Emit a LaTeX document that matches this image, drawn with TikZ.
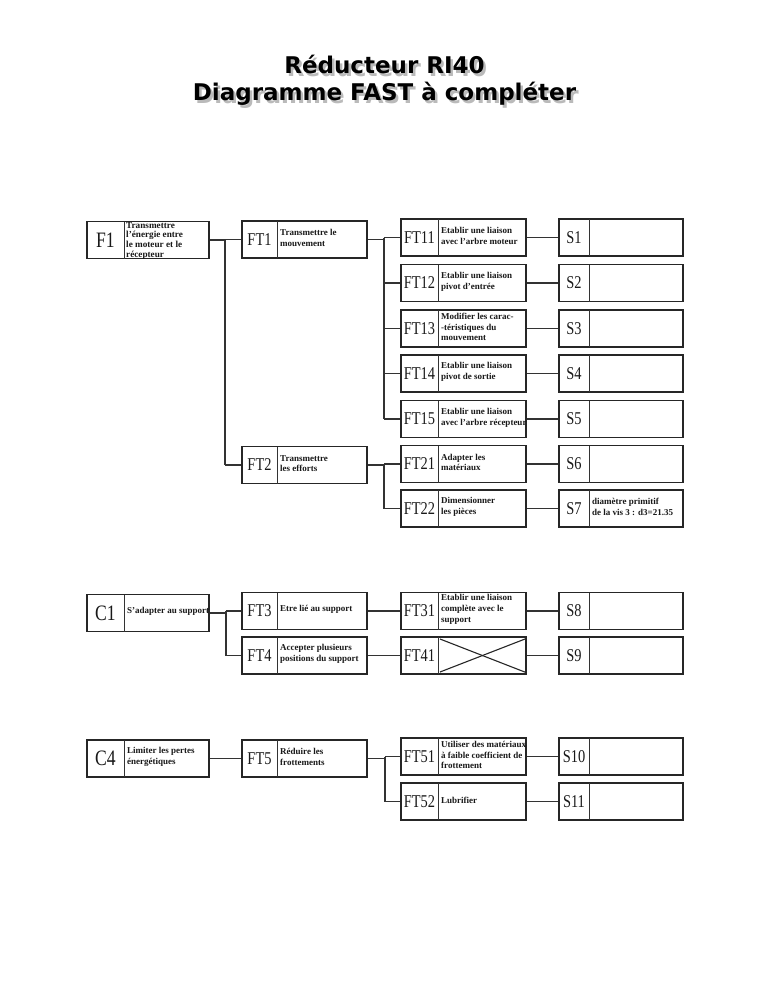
\documentclass[tikz,border=0pt]{standalone}
\usepackage{fontspec}
\setmainfont{Liberation Serif}
\newfontfamily\titlefont{DejaVu Sans}
\usetikzlibrary{calc}
\tikzset{
 box/.style={draw=black!85, line width=1.2pt, rectangle, inner sep=0pt, minimum height=37pt},
 divline/.style={draw=black!80, line width=0.9pt},
 lab/.style={font=\fontsize{18}{18}\selectfont, inner sep=0pt, text=black!90},
 biglab/.style={font=\fontsize{22}{22}\selectfont, inner sep=0pt, text=black!90},
 desc/.style={font=\fontsize{9}{10.8}\selectfont\bfseries, align=left, inner sep=1pt, anchor=west, text=black!90},
 fdesc/.style={desc, font=\fontsize{9.2}{9.6}\selectfont\bfseries},
 conn/.style={draw=black!80, line width=1.1pt},
 xline/.style={draw=black!85, line width=1.1pt},
 ttl/.style={font=\titlefont\bfseries\fontsize{23}{23}\selectfont, inner sep=0pt, anchor=base},
 ttlshadow/.style={ttl, text=black!45, opacity=0.6},
}
\newcommand\blk[8]{%
 \pgfmathsetmacro\bw{#4-#2}%
 \pgfmathsetmacro\bx{(#2+#4)/2}%
 \pgfmathsetmacro\lx{(#2+#3)/2}%
 \node[box, minimum width=\bw pt] (#1) at (\bx,#5) {};
 \draw[divline] (#3,#5-18.5) -- (#3,#5+18.5);
 \node[#6] (#1-l) at (\lx,#5) {\scalebox{.8}[1]{#7}};
 \node[desc] (#1-t) at (#3+2,#5-1.5) {#8};
}
\newcommand\colA[4]{\blk{#1}{87}{124}{209}{#2}{biglab}{#3}{#4}}
\newcommand\colB[4]{\blk{#1}{242}{277}{367}{#2}{lab}{#3}{#4}}
\newcommand\colC[4]{\blk{#1}{401}{438}{526}{#2}{lab}{#3}{#4}}
\newcommand\colD[4]{\blk{#1}{559}{589}{683}{#2}{lab}{#3}{#4}}
\begin{document}
\begin{tikzpicture}[x=1pt,y=-1pt]
\useasboundingbox (0,0) rectangle (768,994);
\fill[white] (0,0) rectangle (768,994);

% title with soft shadow
\node[ttlshadow] (title1s) at (387,76) {Réducteur RI40};
\node[ttlshadow] (title2s) at (387,103) {Diagramme FAST à compléter};
\node[ttl] (title1) at (384.5,73) {Réducteur RI40};
\node[ttl] (title2) at (384.5,100) {Diagramme FAST à compléter};

% ---- column A
\colA{F1}{240}{F1}{}
\node[fdesc, anchor=north west] (F1-txt) at (125,221) {Transmettre\\l'énergie entre\\le moteur et le\\récepteur};
\colA{C1}{613}{C1}{S'adapter au support}
\colA{C4}{758.5}{C4}{Limiter les pertes\\énergétiques}

% ---- column B
\colB{FT1}{239.5}{FT1}{Transmettre le\\mouvement}
\colB{FT2}{465}{FT2}{Transmettre\\les efforts}
\colB{FT3}{611}{FT3}{Etre lié au support}
\colB{FT4}{655.5}{FT4}{Accepter plusieurs\\positions du support}
\colB{FT5}{758.5}{FT5}{Réduire les\\frottements}

% ---- column C
\colC{FT11}{237.5}{FT11}{Etablir une liaison\\avec l'arbre moteur}
\colC{FT12}{283}{FT12}{Etablir une liaison\\pivot d'entrée}
\colC{FT13}{328.5}{FT13}{Modifier les carac-\\-téristiques du\\mouvement}
\colC{FT14}{373.5}{FT14}{Etablir une liaison\\pivot de sortie}
\colC{FT15}{419}{FT15}{Etablir une liaison\\avec l'arbre récepteur}
\colC{FT21}{464}{FT21}{Adapter les\\matériaux}
\colC{FT22}{508.5}{FT22}{Dimensionner\\les pièces}
\colC{FT31}{611}{FT31}{Etablir une liaison\\complète avec le\\support}
\colC{FT41}{655.5}{FT41}{}
\colC{FT51}{756.5}{FT51}{Utiliser des matériaux\\à faible coefficient de\\frottement}
\colC{FT52}{801.5}{FT52}{Lubrifier}
\draw[xline] (440,639) -- (526,672.5);
\draw[xline] (440,672) -- (525,639);

% ---- column D
\colD{S1}{237.5}{S1}{}
\colD{S2}{283}{S2}{}
\colD{S3}{328.5}{S3}{}
\colD{S4}{373.5}{S4}{}
\colD{S5}{419}{S5}{}
\colD{S6}{464}{S6}{}
\colD{S7}{508.5}{S7}{diamètre primitif\\de la vis 3 : d3=21.35}
\colD{S8}{611}{S8}{}
\colD{S9}{655.5}{S9}{}
\colD{S10}{756.5}{S10}{}
\colD{S11}{801.5}{S11}{}

% ---- connectors
\coordinate (jA) at (225,0);
\coordinate (jB) at (384,0);
\coordinate (jC) at (226,0);
\coordinate (jD) at (385,0);

\draw[conn] (F1.east) -- (F1.east -| jA);
\draw[conn] (FT1.west -| jA) -- (FT2.west -| jA);
\draw[conn] (FT1.west -| jA) -- (FT1.west);
\draw[conn] (FT2.west -| jA) -- (FT2.west);

\draw[conn] (FT1.east) -- (FT1.east -| jB);
\draw[conn] (FT11.west -| jB) -- (FT15.west -| jB);
\foreach \n in {FT11,FT12,FT13,FT14,FT15}{
 \draw[conn] (\n.west -| jB) -- (\n.west);
}
\draw[conn] (FT2.east) -- (FT2.east -| jB);
\draw[conn] (FT21.west -| jB) -- (FT22.west -| jB);
\foreach \n in {FT21,FT22}{
 \draw[conn] (\n.west -| jB) -- (\n.west);
}

\draw[conn] (C1.east) -- (C1.east -| jC);
\draw[conn] (FT3.west -| jC) -- (FT4.west -| jC);
\draw[conn] (FT3.west -| jC) -- (FT3.west);
\draw[conn] (FT4.west -| jC) -- (FT4.west);
\draw[conn] (FT3.east) -- (FT31.west);
\draw[conn] (FT4.east) -- (FT41.west);

\draw[conn] (C4.east) -- (FT5.west);
\draw[conn] (FT5.east) -- (FT5.east -| jD);
\draw[conn] (FT51.west -| jD) -- (FT52.west -| jD);
\draw[conn] (FT51.west -| jD) -- (FT51.west);
\draw[conn] (FT52.west -| jD) -- (FT52.west);

\foreach \a/\b in {FT11/S1,FT12/S2,FT13/S3,FT14/S4,FT15/S5,FT21/S6,FT22/S7,FT31/S8,FT41/S9,FT51/S10,FT52/S11}{
 \draw[conn] (\a.east) -- (\b.west);
}
\end{tikzpicture}
\end{document}
